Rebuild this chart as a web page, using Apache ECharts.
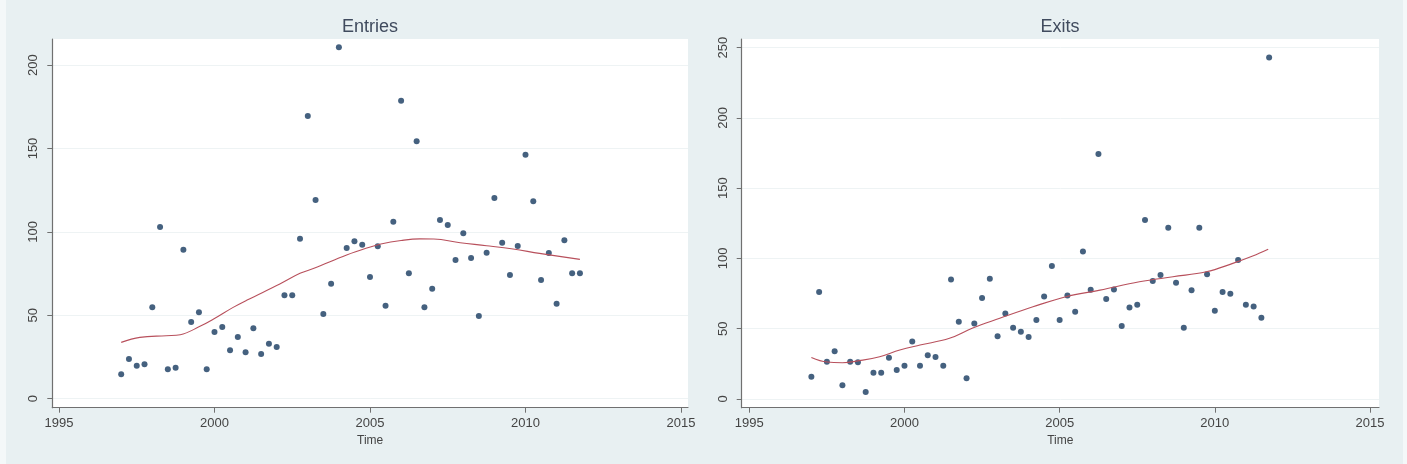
<!DOCTYPE html>
<html>
<head>
<meta charset="utf-8">
<script src="https://cdn.jsdelivr.net/npm/echarts@6/dist/echarts.min.js"></script>
<style>
  html, body { margin: 0; padding: 0; background: #f4f8f9; }
  #chart { position: absolute; left: 6px; top: 0; width: 1397px; height: 464px; }
</style>
</head>
<body>
<div id="chart"></div>
<script>
// quarterly observations, 1997q1 .. 2011q4
var startYear = 1997;
var entries = [
    14.5, 23.7, 19.7, 20.5,
    54.7, 102.9, 17.5, 18.5,
    89.3, 45.9, 51.7, 17.5,
    39.9, 42.9, 28.9, 36.9,
    27.7, 42.1, 26.7, 32.9,
    30.9, 61.9, 61.9, 95.9,
    169.5, 119.1, 50.7, 68.9,
    210.7, 90.3, 94.3, 92.3,
    72.9, 91.3, 55.7, 106.1,
    178.6, 75.1, 154.3, 54.7,
    65.9, 107.1, 104.1, 83.1,
    99.1, 84.3, 49.5, 87.5,
    120.3, 93.5, 74.1, 91.5,
    146.3, 118.3, 71.1, 87.3,
    56.9, 94.9, 75.1, 75.1
];
var exits = [
    15.9, 76.1, 26.5, 33.9,
    9.7, 26.5, 26.1, 5.0,
    18.7, 18.7, 29.4, 20.6,
    23.7, 41.0, 23.7, 31.1,
    29.9, 23.7, 85.1, 55.0,
    14.7, 53.8, 71.8, 85.6,
    44.6, 60.9, 50.7, 47.9,
    44.1, 56.2, 73.0, 94.6,
    56.2, 73.7, 62.1, 105.0,
    77.7, 174.3, 71.1, 78.0,
    51.9, 65.2, 67.1, 127.3,
    83.9, 88.2, 121.8, 82.7,
    50.7, 77.3, 121.8, 88.7,
    62.8, 76.1, 74.9, 98.9,
    67.1, 65.9, 57.8, 243.0
];

// lowess curves
var entriesFitT = [1997.0, 1997.6, 1998.45, 1998.9, 1999.5, 2000.0, 2000.6, 2001.05, 2002.1, 2002.75, 2003.2, 2004.25, 2004.9, 2005.35, 2006.0, 2006.6, 2007.05, 2007.9, 2008.75, 2009.6, 2010.45, 2011.75];
var entriesFit  = [33.7, 36.7, 37.7, 38.3, 43.0, 48.0, 54.7, 59.1, 68.7, 75.1, 78.1, 86.1, 90.3, 92.7, 94.8, 95.8, 95.7, 93.5, 91.7, 89.7, 87.1, 83.5];
var exitsFitT = [1997.0, 1997.5, 1998.0, 1998.55, 1999.2, 1999.85, 2000.5, 2001.45, 2002.2, 2003.07, 2004.14, 2005.2, 2006.3, 2007.57, 2008.65, 2009.72, 2010.58, 2011.22, 2011.72];
var exitsFit  = [29.6, 26.3, 25.8, 27.3, 30.1, 34.9, 38.4, 43.2, 50.5, 57.4, 65.6, 72.8, 77.5, 83.4, 87.0, 90.5, 96.5, 101.7, 106.5];

var xTicks = [1995, 2000, 2005, 2010, 2015];
var entriesTicks = [0, 50, 100, 150, 200];
var exitsTicks = [0, 50, 100, 150, 200, 250];

function pts(vals) {
    var out = [];
    for (var i = 0; i < vals.length; i++) {
        out.push([startYear + Math.floor(i / 4) + (i % 4) / 4, vals[i]]);
    }
    return out;
}
function pairs(t, v) {
    return t.map(function (x, i) { return [x, v[i]]; });
}

var font = 'Liberation Sans, Arial, sans-serif';
var axisGray = '#707070';

function xAxisOpt(idx, min, max) {
    return {
        type: 'value', gridIndex: idx, min: min, max: max,
        name: 'Time', nameLocation: 'middle', nameGap: 23,
        nameTextStyle: { color: '#444', fontSize: 12, fontFamily: font },
        axisLine: { onZero: false, lineStyle: { color: axisGray, width: 1.2 } },
        axisTick: { show: true, length: 5, customValues: xTicks, lineStyle: { color: axisGray } },
        axisLabel: {
            customValues: xTicks, color: '#444', fontSize: 13, fontFamily: font, margin: 9,
            formatter: function (v) { return String(v); }
        },
        splitLine: { show: false }
    };
}
function yAxisOpt(idx, min, max, ticks) {
    return {
        type: 'value', gridIndex: idx, min: min, max: max,
        axisLine: { show: true, onZero: false, lineStyle: { color: axisGray, width: 1.2 } },
        axisTick: { show: true, length: 5, customValues: ticks, lineStyle: { color: axisGray } },
        axisLabel: { customValues: ticks, rotate: 90, color: '#444', fontSize: 13, fontFamily: font, margin: 12 },
        splitLine: { show: true, lineStyle: { color: '#eef3f4', width: 1 } }
    };
}

var myChart = echarts.init(document.getElementById('chart'));
var option = {
    backgroundColor: '#e8f0f2',
    animation: false,
    title: [
        { text: 'Entries', left: 359, top: 13, textAlign: 'center',
          textStyle: { color: '#404b5e', fontSize: 18, fontWeight: 'normal', fontFamily: font } },
        { text: 'Exits', left: 1049, top: 13, textAlign: 'center',
          textStyle: { color: '#404b5e', fontSize: 18, fontWeight: 'normal', fontFamily: font } }
    ],
    grid: [
        { left: 46.3, top: 39, width: 635.7, height: 368.7, show: true, backgroundColor: '#ffffff', borderWidth: 0 },
        { left: 735.7, top: 39, width: 637.3, height: 368.7, show: true, backgroundColor: '#ffffff', borderWidth: 0 }
    ],
    xAxis: [
        xAxisOpt(0, 1994.785, 2015.225),
        xAxisOpt(1, 1994.755, 2015.29)
    ],
    yAxis: [
        yAxisOpt(0, -5.5, 215.7, entriesTicks),
        yAxisOpt(1, -6.2, 256.2, exitsTicks)
    ],
    series: [
        {
            name: 'Entries', type: 'scatter', xAxisIndex: 0, yAxisIndex: 0,
            data: pts(entries), symbol: 'circle', symbolSize: 6,
            itemStyle: { color: '#163a5f' }
        },
        {
            name: 'Entries lowess', type: 'line', xAxisIndex: 0, yAxisIndex: 0,
            data: pairs(entriesFitT, entriesFit), smooth: 0.4, showSymbol: false,
            lineStyle: { color: '#b8505c', width: 1.1 }
        },
        {
            name: 'Exits', type: 'scatter', xAxisIndex: 1, yAxisIndex: 1,
            data: pts(exits), symbol: 'circle', symbolSize: 6,
            itemStyle: { color: '#163a5f' }
        },
        {
            name: 'Exits lowess', type: 'line', xAxisIndex: 1, yAxisIndex: 1,
            data: pairs(exitsFitT, exitsFit), smooth: 0.4, showSymbol: false,
            lineStyle: { color: '#b8505c', width: 1.1 }
        }
    ]
};
if (option && typeof option === "object") {
    myChart.setOption(option, true);
}
</script>
</body>
</html>
